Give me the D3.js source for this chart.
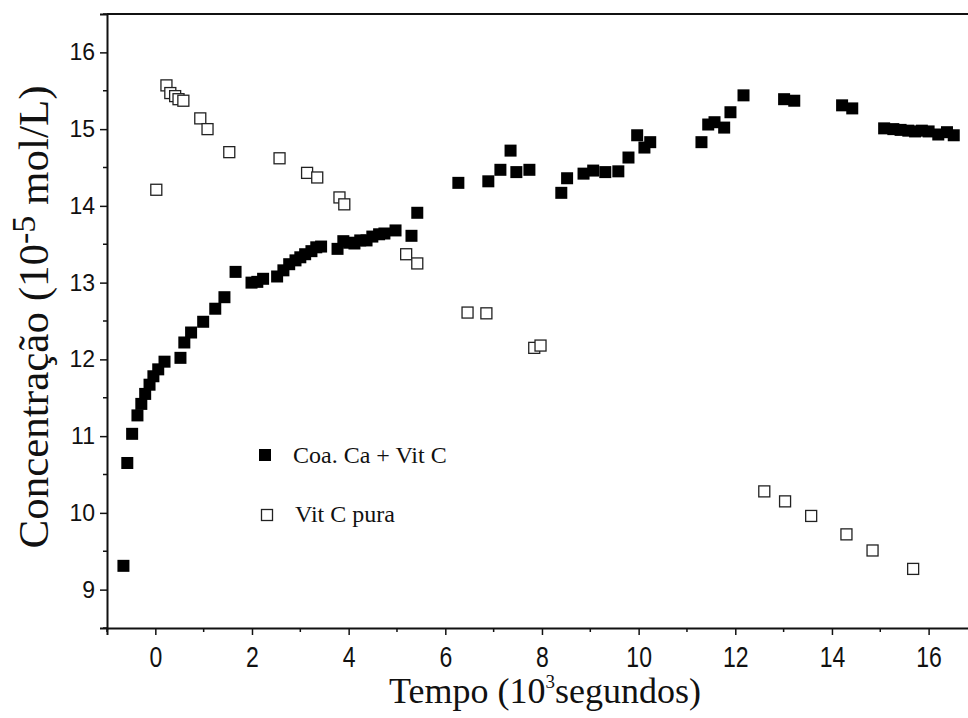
<!DOCTYPE html>
<html>
<head>
<meta charset="utf-8">
<script src="https://cdn.jsdelivr.net/npm/d3@7"></script>
<style>
  html, body { margin: 0; padding: 0; background: #fff; }
  svg { display: block; }
</style>
</head>
<body>
<div id="chart"></div>
<script>
// ---- data ----
const coaCaX = [-0.66,-0.58,-0.48,-0.37,-0.29,-0.21,-0.12,-0.04,0.06,0.19,0.52,0.60,0.74,0.99,1.24,1.43,1.66,
  1.99,2.11,2.23,2.52,2.65,2.77,2.90,3.00,3.10,3.23,3.33,3.43,3.77,3.89,4.01,4.12,4.24,4.37,4.49,4.63,4.74,4.97,5.30,5.42,
  6.27,6.89,7.14,7.35,7.47,7.74,8.40,8.52,8.86,9.06,9.31,9.58,9.79,9.97,10.12,10.24,
  11.30,11.44,11.57,11.77,11.90,12.17,13.01,13.22,14.21,14.42,
  15.08,15.27,15.42,15.58,15.72,15.86,16.00,16.20,16.38,16.52];
const coaCaY = [9.31,10.65,11.03,11.27,11.42,11.55,11.67,11.78,11.87,11.97,12.02,12.22,12.35,12.49,12.66,12.81,13.14,
  13.00,13.01,13.05,13.08,13.16,13.24,13.29,13.33,13.37,13.41,13.46,13.47,13.44,13.54,13.52,13.51,13.55,13.55,13.60,13.63,13.64,13.68,13.61,13.91,
  14.30,14.32,14.47,14.72,14.44,14.47,14.17,14.36,14.42,14.46,14.44,14.45,14.63,14.92,14.76,14.83,
  14.83,15.06,15.09,15.02,15.22,15.44,15.39,15.37,15.31,15.27,
  15.01,15.00,14.99,14.98,14.97,14.98,14.97,14.93,14.96,14.92];

const vitCX = [0.02,0.23,0.31,0.41,0.48,0.58,0.93,1.08,1.53,2.57,3.14,3.35,3.81,3.91,5.19,5.42,6.46,6.85,7.84,7.97,
  12.60,13.03,13.57,14.30,14.84,15.68];
const vitCY = [14.21,15.57,15.47,15.43,15.39,15.37,15.14,15.00,14.70,14.62,14.43,14.37,14.11,14.02,13.37,13.25,12.61,12.60,12.15,12.18,
  10.28,10.15,9.96,9.72,9.51,9.27];

const xTicks = [0,2,4,6,8,10,12,14,16];
const yTicks = [9,10,11,12,13,14,15,16];
const seriesNames = ["Coa. Ca + Vit C", "Vit C pura"];

// ---- layout ----
const W = 968, H = 718;
const mLeft = 107, mTop = 14, mBottom = 628;
const pxPerX = 48.33;

const svg = d3.select("#chart").append("svg").attr("width", W).attr("height", H);

const x = d3.scaleLinear().domain([-1, 17]).range([mLeft, mLeft + 18 * pxPerX]);
const y = d3.scaleLinear().domain([8.5, 16.5]).range([mBottom, mTop]);

const sans = "'Liberation Sans', Arial, sans-serif";
const serif = "'Liberation Serif', 'Times New Roman', serif";

// minor ticks
const xMinor = d3.range(-1, 17.01, 1).filter(v => !xTicks.includes(v));
const yMinor = d3.range(8.5, 16.51, 0.5).filter(v => !yTicks.includes(v));

// top frame line
svg.append("line").attr("x1", mLeft).attr("x2", W).attr("y1", mTop).attr("y2", mTop)
  .attr("stroke", "#111").attr("stroke-width", 2);

// x axis
const gx = svg.append("g").attr("transform", `translate(0,${mBottom})`)
  .call(d3.axisBottom(x).tickValues(xTicks).tickSize(7).tickPadding(0).tickFormat(d3.format("d")));
gx.select(".domain").attr("stroke", "#111").attr("stroke-width", 2);
gx.selectAll(".tick line").attr("stroke", "#111").attr("stroke-width", 1.5);
gx.selectAll(".tick text")
  .attr("dy", null).attr("y", 0)
  .attr("transform", "translate(0,39) scale(1,1.3)")
  .attr("font-family", sans).attr("font-size", 23).attr("fill", "#111");
gx.selectAll(".minor").data(xMinor).enter().append("line")
  .attr("x1", d => x(d)).attr("x2", d => x(d)).attr("y1", 0).attr("y2", 4)
  .attr("stroke", "#111").attr("stroke-width", 1.5);

// y axis
const gy = svg.append("g").attr("transform", `translate(${mLeft},0)`)
  .call(d3.axisLeft(y).tickValues(yTicks).tickSize(7).tickPadding(5).tickFormat(d3.format("d")));
gy.select(".domain").attr("stroke", "#111").attr("stroke-width", 2);
gy.selectAll(".tick line").attr("stroke", "#111").attr("stroke-width", 1.5);
gy.selectAll(".tick text").attr("font-family", sans).attr("font-size", 23).attr("fill", "#111");
gy.selectAll(".minor").data(yMinor).enter().append("line")
  .attr("x1", 0).attr("x2", -4).attr("y1", d => y(d)).attr("y2", d => y(d))
  .attr("stroke", "#111").attr("stroke-width", 1.5);

// markers
const S = 12;
const coaData = coaCaX.map((v, i) => [v, coaCaY[i]]);
const vitData = vitCX.map((v, i) => [v, vitCY[i]]);

svg.append("g").selectAll("rect").data(vitData).enter().append("rect")
  .attr("x", d => x(d[0]) - S / 2 + 0.5).attr("y", d => y(d[1]) - S / 2 + 0.5)
  .attr("width", S - 1).attr("height", S - 1)
  .attr("fill", "#fff").attr("stroke", "#222").attr("stroke-width", 1.3);

svg.append("g").selectAll("rect").data(coaData).enter().append("rect")
  .attr("x", d => x(d[0]) - S / 2).attr("y", d => y(d[1]) - S / 2)
  .attr("width", S).attr("height", S).attr("fill", "#000");

// legend
const lg = svg.append("g");
lg.append("rect").attr("x", 259).attr("y", 449).attr("width", 12).attr("height", 12).attr("fill", "#000");
lg.append("text").attr("x", 293).attr("y", 463).text(seriesNames[0])
  .attr("font-family", serif).attr("font-size", 24).attr("fill", "#111");
lg.append("rect").attr("x", 261.5).attr("y", 509.5).attr("width", 11).attr("height", 11)
  .attr("fill", "#fff").attr("stroke", "#222").attr("stroke-width", 1.3);
lg.append("text").attr("x", 295).attr("y", 522).text(seriesNames[1])
  .attr("font-family", serif).attr("font-size", 24).attr("fill", "#111");

// axis titles
const xt = svg.append("text").attr("x", 545).attr("y", 703).attr("text-anchor", "middle")
  .attr("font-family", serif).attr("font-size", 36).attr("fill", "#111");
xt.append("tspan").text("Tempo (10");
xt.append("tspan").text("3").attr("font-size", 19).attr("dy", -15);
xt.append("tspan").text("segundos)").attr("dy", 15);

const yt = svg.append("text").attr("transform", `translate(48,317) rotate(-90)`)
  .attr("text-anchor", "middle").attr("font-family", serif).attr("font-size", 43).attr("fill", "#111");
yt.append("tspan").text("Concentração (10");
yt.append("tspan").text("-5").attr("font-size", 34).attr("dy", -13);
yt.append("tspan").text(" mol/L)").attr("dy", 13);
</script>
</body>
</html>
